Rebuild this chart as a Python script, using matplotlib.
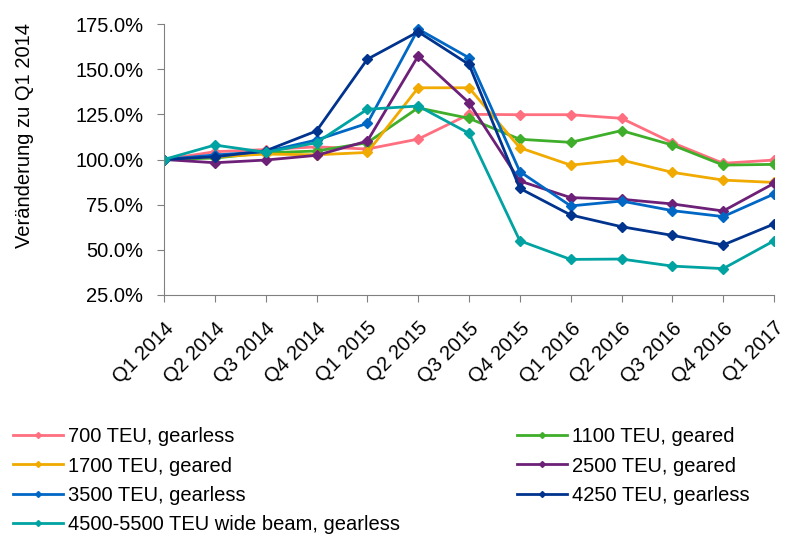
import matplotlib.pyplot as plt
from matplotlib.ticker import PercentFormatter

plt.rcParams['font.family'] = ['Liberation Sans', 'DejaVu Sans']

quarters = ["Q1 2014", "Q2 2014", "Q3 2014", "Q4 2014", "Q1 2015", "Q2 2015", "Q3 2015",
            "Q4 2015", "Q1 2016", "Q2 2016", "Q3 2016", "Q4 2016", "Q1 2017"]

teu_700 = [100, 104.3, 105.5, 107.0, 105.8, 111.3, 125.0, 124.8, 124.8, 122.8, 109.3, 97.9, 99.7]
teu_1100 = [100, 100.8, 103.7, 104.7, 109.3, 128.6, 122.8, 111.2, 109.5, 116.0, 108.0, 96.9, 97.3]
teu_1700 = [100, 101.5, 103.0, 102.6, 103.9, 139.7, 139.7, 106.5, 96.9, 99.7, 92.9, 88.6, 87.3]
teu_2500 = [100, 98.2, 99.7, 102.3, 110.2, 157.3, 131.4, 88.1, 78.9, 78.0, 75.4, 71.5, 86.8]
teu_3500 = [100, 102.5, 104.3, 110.8, 120.0, 172.2, 156.3, 93.3, 74.3, 77.0, 71.7, 68.4, 80.9]
teu_4250 = [100, 101.5, 104.8, 115.8, 155.5, 170.7, 152.6, 84.0, 69.3, 62.8, 58.0, 52.7, 64.3]
teu_4500 = [100, 108.0, 104.0, 109.3, 127.8, 129.6, 114.5, 55.0, 44.7, 44.9, 41.0, 39.6, 55.0]

series = [
    ("700 TEU, gearless", teu_700, "#ff6f7f"),
    ("1100 TEU, geared", teu_1100, "#3fae2a"),
    ("1700 TEU, geared", teu_1700, "#f0aa00"),
    ("2500 TEU, geared", teu_2500, "#6d2077"),
    ("3500 TEU, gearless", teu_3500, "#0067c5"),
    ("4250 TEU, gearless", teu_4250, "#00338d"),
    ("4500-5500 TEU wide beam, gearless", teu_4500, "#00a3a1"),
]

fig = plt.figure(figsize=(7.91, 5.36), dpi=100)
ax = fig.add_axes([164 / 791, 1 - 295 / 536, 610 / 791, 271 / 536])

x = range(len(quarters))
lines = {}
for name, vals, color in series:
    ln, = ax.plot(x, vals, color=color, lw=2, marker="D", ms=5, label=name)
    lines[name] = ln

ax.set_xlim(0, len(quarters) - 1)
ax.set_ylim(25, 175)
ax.set_yticks([25, 50, 75, 100, 125, 150, 175])
ax.yaxis.set_major_formatter(PercentFormatter(decimals=1))
ax.set_xticks(list(x))
ax.set_xticklabels(quarters, rotation=45, ha="right", rotation_mode="anchor")
ax.tick_params(labelsize=14.5, length=5, color="#808080")
ax.tick_params(axis="y", pad=10)
ax.tick_params(axis="x", pad=12)
ax.spines["top"].set_visible(False)
ax.spines["right"].set_visible(False)
ax.spines["left"].set_color("#808080")
ax.spines["bottom"].set_color("#808080")
ax.set_ylabel("Veränderung zu Q1 2014", fontsize=14.5)
ax.yaxis.set_label_coords(-0.213, 0.587)

# two separate legends so rows line up like the original
left = [series[i][0] for i in (0, 2, 4, 6)]
right = [series[i][0] for i in (1, 3, 5)]
for names, xpos in ((left, 0.011), (right, 0.648)):
    lg = fig.legend([lines[n] for n in names], names, loc="upper left",
                    bbox_to_anchor=(xpos, 0.21), frameon=False, fontsize=14.5,
                    handlelength=2.5, handletextpad=0.25, labelspacing=0.5,
                    borderpad=0.2, borderaxespad=0)
    for h in lg.legend_handles:
        h.set_markersize(3)

plt.savefig("out.png")
